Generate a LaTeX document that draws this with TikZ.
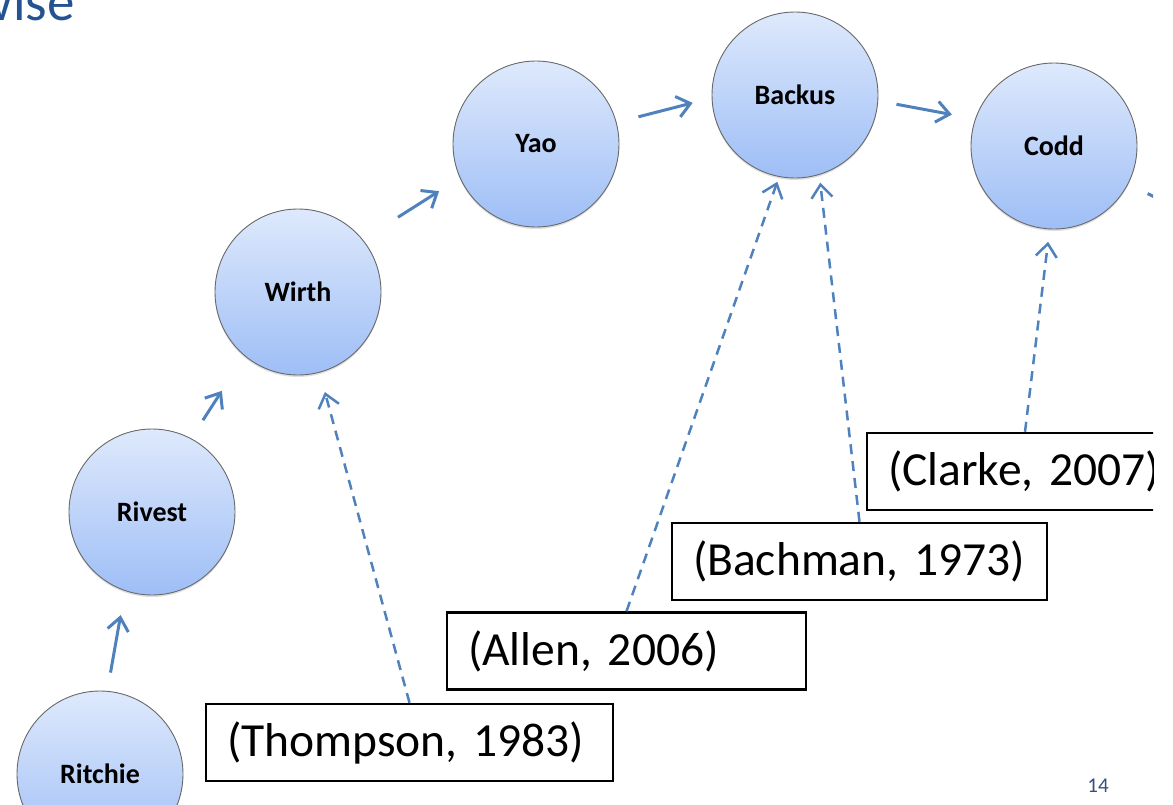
\documentclass[tikz,border=0pt]{standalone}
\usepackage{fontspec}
\setmainfont{Carlito}
\frenchspacing
\usetikzlibrary{arrows.meta,shadows}
\definecolor{arrowblue}{RGB}{79,129,189}
\definecolor{circtop}{RGB}{222,233,252}
\definecolor{circbot}{RGB}{158,190,246}
\definecolor{circline}{RGB}{105,105,105}
\definecolor{titleblue}{RGB}{36,82,146}
\definecolor{numblue}{RGB}{50,80,125}
\tikzset{
  person/.style={circle, minimum size=166pt, inner sep=0pt, outer sep=0pt,
    draw=circline, line width=0.9pt, top color=circtop, bottom color=circbot,
    drop shadow={shadow xshift=0pt, shadow yshift=-2pt, opacity=0.25},
    font=\fontsize{28}{34}\selectfont\bfseries},
  refbox/.style={draw=black, line width=2.5pt, fill=white, inner xsep=0pt, inner ysep=0pt,
    minimum height=77pt, align=left, font=\fontsize{47.5}{56}\selectfont\frenchspacing},
  flow/.style={draw=arrowblue, line width=3pt, -{Straight Barb[length=13pt,width=21pt]}},
  cite/.style={draw=arrowblue, line width=2.5pt, dash pattern=on 10pt off 7pt,
    -{Straight Barb[length=13pt,width=21pt]}},
}
\begin{document}
\begin{tikzpicture}[x=1pt,y=-1pt]
\useasboundingbox (0,0) rectangle (1173,804);
\clip (0,0) rectangle (1153,804);
% title fragment
\node[anchor=base east, inner sep=0pt, text=titleblue, font=\fontsize{55}{60}\selectfont] (title) at (75,20) {wise};
% people
\node[person] (Ritchie) at (100,774) {Ritchie};
\node[person] (Rivest) at (152,512) {Rivest};
\node[person] (Wirth) at (298,292) {Wirth};
\node[person] (Yao) at (536,144) {Yao};
\node[person] (Backus) at (795,95) {Backus};
\node[person] (Codd) at (1054,146) {Codd};
\coordinate (next) at (1210,225);
% flow arrows
\draw[flow, shorten <=19pt, shorten >=25pt] (Ritchie.85) -- (Rivest.251.7);
\draw[flow, shorten <=22pt, shorten >=42pt] (Rivest.62.9) -- (Wirth.230.2);
\draw[flow, shorten <=42pt, shorten >=25pt] (Wirth.39.5) -- (Yao.204);
\draw[flow, shorten <=23pt, shorten >=20pt] (Yao.15.9) -- (Backus.182.8);
\draw[flow, shorten <=19pt, shorten >=24pt] (Backus.-4.5) -- (Codd.161.6);
\draw[flow, shorten <=22pt] (Codd.-27.8) -- (next);
% reference boxes
\node[refbox, text width=407pt] (Thompson) at (409.5,742.5) {\hspace*{21pt}(Thompson, 1983)};
\node[refbox, text width=359pt] (Allen) at (626.5,651) {\hspace*{21pt}(Allen, 2006)};
\node[refbox, text width=375pt] (Bachman) at (859.5,561.5) {\hspace*{21pt}(Bachman, 1973)};
\node[refbox, text width=316pt] (Clarke) at (1025,471.5) {\hspace*{21pt}(Clarke, 2007)};
% citation arrows
\draw[cite, shorten >=20.6pt] (Thompson.north) -- (Wirth.285.1);
\draw[cite, shorten >=5.6pt] (Allen.north) -- (Backus.259);
\draw[cite, shorten >=8.4pt] (Bachman.north) -- (Backus.287.8);
\draw[cite, shorten >=13pt] (Clarke.north) -- (Codd.267.6);
% page number
\node[anchor=base, inner sep=0pt, text=numblue, font=\fontsize{21}{24}\selectfont] (page) at (1098,792) {14};
\end{tikzpicture}
\end{document}
